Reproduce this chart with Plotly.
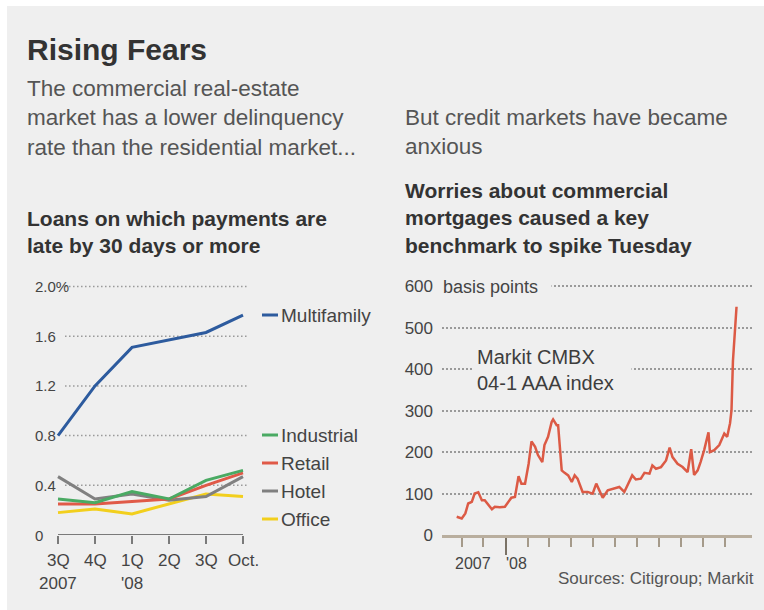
import plotly.graph_objects as go

W, H = 764, 610

# ---------------- data: left chart (delinquency rate, %) ----------------
quarter_top = ["3Q", "4Q", "1Q", "2Q", "3Q", "Oct."]
quarter_bottom = ["2007", "", "'08", "", "", ""]
multifamily = [0.80, 1.20, 1.51, 1.57, 1.63, 1.77]
industrial = [0.29, 0.26, 0.35, 0.29, 0.44, 0.52]
retail = [0.25, 0.25, 0.27, 0.29, 0.40, 0.50]
hotel = [0.47, 0.29, 0.33, 0.28, 0.31, 0.47]
office = [0.18, 0.21, 0.17, 0.25, 0.33, 0.31]
left_yticks = [0, 0.4, 0.8, 1.2, 1.6, 2.0]
left_ytick_text = ["0", "0.4", "0.8", "1.2", "1.6", "2.0%"]
series_names = ["Multifamily", "Industrial", "Retail", "Hotel", "Office"]

# ---------------- data: right chart (Markit CMBX 04-1 AAA, basis points) ----------------
cmbx_dates = [
    "2007-10-25", "2007-11-01", "2007-11-06", "2007-11-10", "2007-11-15", "2007-11-19",
    "2007-11-24", "2007-11-29", "2007-12-03", "2007-12-08", "2007-12-13", "2007-12-17",
    "2007-12-24", "2007-12-31", "2008-01-05", "2008-01-09", "2008-01-14", "2008-01-19",
    "2008-01-23", "2008-01-28", "2008-02-02", "2008-02-06", "2008-02-11", "2008-02-15",
    "2008-02-21", "2008-02-24", "2008-02-29", "2008-03-05", "2008-03-07", "2008-03-12",
    "2008-03-14", "2008-03-19", "2008-03-23", "2008-03-28", "2008-04-02", "2008-04-06",
    "2008-04-10", "2008-04-17", "2008-04-24", "2008-05-01", "2008-05-06", "2008-05-11",
    "2008-05-15", "2008-05-22", "2008-05-29", "2008-06-07", "2008-06-14", "2008-06-18",
    "2008-06-25", "2008-06-30", "2008-07-07", "2008-07-12", "2008-07-19", "2008-07-23",
    "2008-07-28", "2008-08-04", "2008-08-11", "2008-08-16", "2008-08-20", "2008-08-27",
    "2008-09-03", "2008-09-10", "2008-09-15", "2008-09-19", "2008-09-24", "2008-09-28",
    "2008-10-03", "2008-10-09", "2008-10-11", "2008-10-17", "2008-10-24", "2008-10-31",
    "2008-11-04", "2008-11-08", "2008-11-10", "2008-11-12", "2008-11-15", "2008-11-17",
]
cmbx_values = [
    44, 40, 52, 76, 80, 100,
    103, 84, 84, 72, 62, 68,
    67, 68, 80, 90, 92, 142,
    124, 124, 172, 226, 213, 193,
    176, 217, 237, 273, 279, 265,
    265, 156, 150, 144, 128, 144,
    136, 104, 104, 100, 124, 104,
    90, 108, 112, 116, 104, 120,
    144, 134, 136, 150, 148, 168,
    160, 164, 180, 211, 188, 172,
    164, 152, 207, 145, 156, 176,
    205, 248, 200, 205, 217, 245,
    237, 270, 301, 420, 500, 551,
]
right_yticks = [0, 100, 200, 300, 400, 500, 600]
month_ticks = ["2007-11-01", "2007-12-01", "2008-01-01", "2008-02-01", "2008-03-01",
               "2008-04-01", "2008-05-01", "2008-06-01", "2008-07-01", "2008-08-01",
               "2008-09-01", "2008-10-01", "2008-11-01"]
year_ticks = ["2008-01-01"]
year_labels = ["2007", "'08"]
year_label_dates = ["2007-11-16", "2008-01-16"]

# ---------------- styling ----------------
FONT = "Liberation Sans, Arial, sans-serif"
colors = {"Multifamily": "#2d5b9e", "Industrial": "#4aaa63", "Retail": "#e05a48",
          "Hotel": "#808080", "Office": "#f2cf1d"}
CMBX_COLOR = "#dc5a45"
GRID = "#9a9a9a"
TEXT = "#444444"


def px(x):
    return x / W


def py(y):
    return 1 - y / H


fig = go.Figure()

left_data = {"Multifamily": multifamily, "Industrial": industrial, "Retail": retail,
             "Hotel": hotel, "Office": office}
draw_order = ["Office", "Hotel", "Retail", "Industrial", "Multifamily"]
for name in draw_order:
    fig.add_trace(go.Scatter(x=list(range(len(quarter_top))), y=left_data[name], mode="lines",
                             line=dict(color=colors[name], width=3), name=name,
                             xaxis="x", yaxis="y", showlegend=False, hoverinfo="skip"))

fig.add_trace(go.Scatter(x=cmbx_dates, y=cmbx_values, mode="lines",
                         line=dict(color=CMBX_COLOR, width=2.5), xaxis="x2", yaxis="y2",
                         showlegend=False, hoverinfo="skip"))

shapes = []
# background panel
shapes.append(dict(type="rect", xref="paper", yref="paper", x0=px(7), x1=1,
                   y0=0, y1=py(6), fillcolor="#efefef", line=dict(width=0), layer="below"))
# left gridlines
for v in left_yticks[1:]:
    shapes.append(dict(type="line", xref="x", yref="y", x0=0.19, x1=5.1, y0=v, y1=v,
                       line=dict(color=GRID, width=1.5, dash="1.5px,2.5px"), layer="below"))
# left axis baseline
shapes.append(dict(type="line", xref="x", yref="y", x0=0, x1=len(quarter_top) - 1, y0=0, y1=0,
                   line=dict(color="#7a7a7a", width=2)))
# legend dashes
legend_y = {"Multifamily": 315, "Industrial": 435, "Retail": 463, "Hotel": 491, "Office": 519}
for name in series_names:
    shapes.append(dict(type="line", xref="paper", yref="paper", x0=px(262), x1=px(278),
                       y0=py(legend_y[name]), y1=py(legend_y[name]),
                       line=dict(color=colors[name], width=3)))

ann = []


def add_text(text, x, y, size, color=TEXT, family=FONT, xanchor="left", yanchor="middle",
             align="left", **kw):
    ann.append(dict(text=text, x=x, y=y, xref=kw.pop("xref", "paper"), yref=kw.pop("yref", "paper"),
                    xanchor=xanchor, yanchor=yanchor, align=align, showarrow=False,
                    font=dict(family=family, size=size, color=color), **kw))


add_text("<b>Rising Fears</b>", px(25), py(49), 30, color="#333333")
add_text("The commercial real-estate<br>market has a lower delinquency<br>rate than the residential market...",
         px(25), py(118), 22.5, color="#555555")
add_text("But credit markets have became<br>anxious", px(403), py(132.5), 22.5, color="#555555")
add_text("<b>Loans on which payments are<br>late by 30 days or more</b>", px(25), py(232), 21,
         color="#333333")
add_text("<b>Worries about commercial<br>mortgages caused a key<br>benchmark to spike Tuesday</b>",
         px(403), py(218), 21, color="#333333")

# left y tick labels
for v, t in zip(left_yticks, left_ytick_text):
    add_text(t, px(33), v, 15, yref="y")
# left x tick labels (two rows)
for i, (a, b) in enumerate(zip(quarter_top, quarter_bottom)):
    add_text(a, i, py(560), 17, xanchor="center", xref="x")
    if b:
        add_text(b, i, py(583), 17, xanchor="center", xref="x")
# legend labels
for name in series_names:
    add_text(name, px(279), py(legend_y[name]), 19)

# right chart labels
add_text("basis points", px(440), py(287), 18, bgcolor="#efefef", borderpad=2, width=106)
add_text("Markit CMBX<br>04-1 AAA index", px(472), py(370), 20, color="#3d3d3d",
         bgcolor="#efefef", borderpad=4, width=150)
add_text("Sources: Citigroup; Markit", px(756), py(578), 17, xanchor="right", align="right",
         color="#555555")
for lab, d in zip(year_labels, year_label_dates):
    add_text(lab, d, py(563.5), 16, xanchor="center", xref="x2")

y_dom = [py(535), py(284)]
fig.update_layout(
    width=W, height=H, autosize=False,
    margin=dict(l=0, r=0, t=0, b=0, pad=0, autoexpand=False),
    paper_bgcolor="white", plot_bgcolor="rgba(0,0,0,0)",
    showlegend=False,
    xaxis=dict(domain=[px(56.15), px(248.55)], range=[-0.05, 5.15], tickvals=list(range(6)),
               ticks="outside", ticklen=8, tickwidth=1.5, tickcolor="#7a7a7a", automargin=False,
               showticklabels=False, showgrid=False, zeroline=False, showline=False, fixedrange=True),
    yaxis=dict(domain=y_dom, range=[0, 2.02], showticklabels=False, showgrid=False, automargin=False,
               zeroline=False, showline=False, ticks="", fixedrange=True),
    xaxis2=dict(domain=[px(442), px(752)], type="date", automargin=False,
                range=["2007-10-04 14:00", "2008-12-08 12:00"],
                tickmode="array", tickvals=year_ticks, ticks="outside", ticklen=17, tickwidth=1.5,
                tickcolor="#7a7266", showticklabels=False, showgrid=False, zeroline=False,
                showline=True, linecolor="#b9ae9e", linewidth=2.5,
                minor=dict(tickmode="array", tickvals=month_ticks, ticks="outside", ticklen=9,
                           tickwidth=1.5, tickcolor="#a59a8a", showgrid=False),
                anchor="y2", fixedrange=True),
    yaxis2=dict(domain=y_dom, range=[0, 606], tickmode="array", tickvals=right_yticks,
                ticks="", ticklabelstandoff=8, tickfont=dict(family=FONT, size=17, color=TEXT),
                showgrid=True, gridcolor=GRID, gridwidth=1.5, griddash="1.5px,2.5px", automargin=False,
                zeroline=False, showline=False, anchor="x2", fixedrange=True),
    shapes=shapes,
    annotations=ann,
)

post = ("var de=document.documentElement,b=document.body;"
        "de.style.margin='0';de.style.padding='0';de.style.height='610px';de.style.overflow='hidden';"
        "b.style.margin='0';b.style.padding='0';b.style.height='610px';b.style.overflow='hidden';"
        "var gd=document.getElementById('{plot_id}');gd.style.position='fixed';"
        "gd.style.left='0px';gd.style.top='0px';")
fig.write_html("out.html", post_script=post, config={"displayModeBar": False, "responsive": False})
